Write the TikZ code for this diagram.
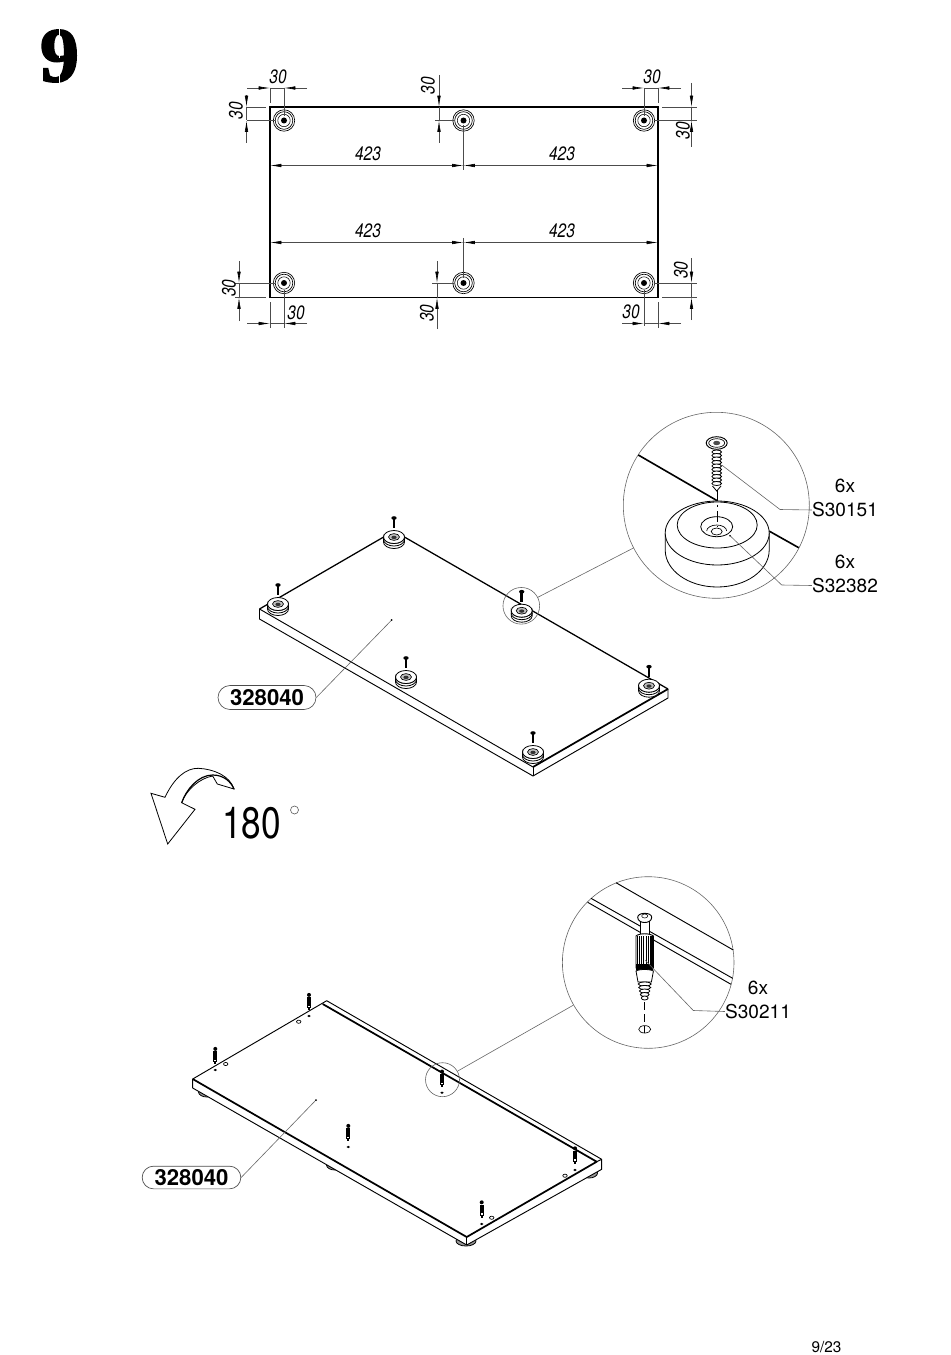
\documentclass[tikz,border=0pt]{standalone}
\usepackage{fontspec}
\usetikzlibrary{arrows.meta,shapes.misc}
\setmainfont{TeX Gyre Heros}
\newfontfamily\dimfont[FakeStretch=0.8]{TeX Gyre Heros}
\newfontfamily\bigfont[FakeStretch=0.8]{TeX Gyre Heros}
\newfontfamily\stepfont[FakeBold=2.5]{Liberation Serif}
\tikzset{
    dimline/.style={line width=0.45pt, draw=black!70, >={Latex[length=8.5pt,width=2.6pt,black]}},
    leaderline/.style={line width=0.45pt, draw=black!60},
    dimtext/.style={font=\dimfont\itshape\fontsize{14.5}{14.5}\selectfont, inner sep=0pt},
    parttext/.style={font=\fontsize{14.3}{14.3}\selectfont, inner sep=0pt},
    pill/.style={rounded rectangle, draw=black!70, line width=0.5pt, minimum height=18pt,
        inner sep=0pt, font=\bfseries\fontsize{16.6}{16.6}\selectfont},
    spot/.style={circle, draw=black!60, line width=0.45pt, inner sep=0pt},
    edgethin/.style={line width=0.7pt, line join=round},
    edgethick/.style={line width=1.3pt, line join=round}
}
\newcommand{\dimh}[5]{% y, left, tip, tip, right
    \draw[dimline,->] (#2,#1) -- (#3,#1);
    \draw[dimline,->] (#5,#1) -- (#4,#1);
    \draw[dimline] (#3,#1) -- (#4,#1);
}
\newcommand{\dimv}[5]{% x, top, tip, tip, bottom
    \draw[dimline,->] (#1,#2) -- (#1,#3);
    \draw[dimline,->] (#1,#5) -- (#1,#4);
    \draw[dimline] (#1,#3) -- (#1,#4);
}
\newcommand{\planhole}[2]{%
    \draw[line width=0.5pt] (#1,#2) circle (10.7);
    \draw[line width=0.5pt] (#1,#2) circle (8.8);
    \draw[line width=0.4pt] (#1,#2) circle (6.2);
    \fill (#1,#2) circle (3);
}
\newcommand{\minifoot}[2]{% centre of the foot
    \begin{scope}[shift={(#1,#2)}]
        \filldraw[fill=white, line width=0.6pt] (-10.5,-1) -- (-10.5,4)
            arc[start angle=180, end angle=0, x radius=10.5, y radius=6.5] -- (10.5,-1)
            arc[start angle=0, end angle=180, x radius=10.5, y radius=6.5] -- cycle;
        \draw[line width=0.6pt] (-10.5,1.5) arc[start angle=180, end angle=0, x radius=10.5, y radius=6.5];
        \filldraw[fill=white, line width=0.6pt] (0,-1) ellipse [x radius=10.5, y radius=6.5];
        \filldraw[fill=black!25, line width=0.5pt] (0,-1) ellipse [x radius=5.5, y radius=3.4];
        \fill[black!80] (0,-0.6) ellipse [x radius=2.6, y radius=1.7];
        \draw[line width=2pt] (0,-19) -- (0,-10);
        \fill (0,-20) ellipse [x radius=2.7, y radius=1.8];
    \end{scope}
}
\newcommand{\underfoot}[3]{% x, y, x radius
    \filldraw[fill=black!40, line width=0.6pt] (#1,#2) ellipse [x radius=#3, y radius=5];
}
\newcommand{\minidowel}[3]{% x, top, hole y
    \fill (#1,#2+1.6) circle (2);
    \fill (#1-2,#2+4) rectangle (#1+2,#2+12);
    \filldraw[fill=white, line width=0.5pt] (#1-1.5,#2+12) rectangle (#1+1.5,#2+14.5);
    \fill (#1-1,#2+14.5) rectangle (#1+1,#2+17);
    \fill (#1,#3) ellipse [x radius=1.7, y radius=1.2];
}
\newcommand{\minihole}[2]{%
    \draw[line width=0.5pt] (#1,#2) ellipse [x radius=2.2, y radius=1.6];
}
\begin{document}
\begin{tikzpicture}[x=0.75pt, y=-0.75pt]
    \useasboundingbox (0,0) rectangle (950,1355);

    % step number
    \node[font=\stepfont\bfseries\fontsize{58}{58}\selectfont, inner sep=0pt] (stepno) at (59.5,56) {9};
    \fill[white] (59,27) rectangle (60.3,58);
    \fill[white] (59,70) rectangle (60.3,86);

    % plan of the panel
    \draw[line width=1.1pt] (270,107) rectangle (658,297.5);
    \foreach \px in {284, 463.5, 644}
        \foreach \py in {120.5, 283}
            \planhole{\px}{\py};
    \draw[dimline] (270,88) -- (270,103);
    \draw[dimline] (284,88) -- (284,116);
    \dimh{88}{247}{270}{284}{307}
    \draw[dimline] (247,107) -- (266,107);
    \draw[dimline] (247,120.5) -- (275,120.5);
    \dimv{246.5}{95}{107}{120.5}{143}
    \draw[dimline] (435,120.5) -- (454,120.5);
    \dimv{439}{75}{107}{120.5}{143}
    \draw[dimline] (644,88) -- (644,116);
    \draw[dimline] (658,88) -- (658,103);
    \dimh{88}{622}{644}{658}{681}
    \draw[dimline] (662,107) -- (697,107);
    \draw[dimline] (654,120.5) -- (697,120.5);
    \dimv{691.5}{83}{107}{120.5}{147}
    \draw[dimline] (463.5,125) -- (463.5,170);
    \draw[dimline,<->] (270,165.5) -- (463.5,165.5);
    \draw[dimline,<->] (463.5,165.5) -- (658,165.5);
    \draw[dimline] (463.5,238) -- (463.5,278);
    \draw[dimline,<->] (270,242.5) -- (463.5,242.5);
    \draw[dimline,<->] (463.5,242.5) -- (658,242.5);
    \draw[dimline] (235,283) -- (275,283);
    \draw[dimline] (235,297.5) -- (266,297.5);
    \dimv{239}{261}{283}{297.5}{321}
    \draw[dimline] (432,283) -- (454,283);
    \dimv{437}{261}{283}{297.5}{329}
    \draw[dimline] (654,283) -- (697,283);
    \draw[dimline] (662,297.5) -- (697,297.5);
    \dimv{691.5}{258}{283}{297.5}{320}
    \draw[dimline] (270,302) -- (270,328);
    \draw[dimline] (284,290) -- (284,328);
    \dimh{323.5}{247}{270}{284}{307}
    \draw[dimline] (644,290) -- (644,326);
    \draw[dimline] (658,302) -- (658,328);
    \dimh{323.5}{622}{644}{658}{681}

    \foreach \i/\lx/\ly/\lt in {1/278/77/30, 2/652/77/30, 3/296/313/30, 4/631/312/30,
            5/368/154/423, 6/562/154/423, 7/368/231/423, 8/562/231/423}
        \node[dimtext] (dimh\i) at (\lx,\ly) {\lt};
    \foreach \i/\lx/\ly in {1/236/111, 2/428/86, 3/683/131, 4/229/288, 5/427/313, 6/681/270}
        \node[dimtext, rotate=90] (dimv\i) at (\lx,\ly) {30};

    % panel with feet
    \draw[edgethin] (259.5,609) -- (259.5,619) -- (533,776) -- (668,698) -- (668,689);
    \draw[edgethin] (533,767) -- (533,776);
    \draw[edgethin] (259.5,609) -- (533,767);
    \draw[edgethick] (533,767) -- (668,689);
    \draw[edgethin, line width=0.95pt] (259.5,609) -- (394,531) -- (668,689);
    \minifoot{278}{605}
    \minifoot{394}{538}
    \minifoot{521.7}{611.7}
    \minifoot{406}{678}
    \minifoot{649}{686.7}
    \minifoot{533}{753}

    \node[spot, minimum size=27.5pt] (spotA) at (521.3,605.8) {};
    \node[spot, minimum size=139.5pt] (detailA) at (716.3,505.3) {};
    \draw[leaderline] (spotA) -- (detailA);

    % detail of the foot
    \draw[line width=1.2pt] (638.3,455) -- (717.7,501);
    \draw[line width=1.2pt] (769,531) -- (798.7,547.7);
    \filldraw[fill=white, line width=0.6pt] (665.2,533) -- (665.2,550)
        arc[start angle=180, end angle=0, x radius=52, y radius=37] -- (769.2,533);
    \filldraw[fill=white, line width=0.6pt] (717.2,533) ellipse [x radius=52, y radius=32];
    \draw[line width=0.6pt] (717.2,525) ellipse [x radius=40, y radius=23];
    \draw[line width=0.6pt] (716.7,526.7) ellipse [x radius=16, y radius=10];
    \draw[line width=0.5pt] (706.7,531) arc[start angle=180, end angle=360, x radius=10, y radius=6];
    \draw[line width=0.5pt] (716.7,531.5) ellipse [x radius=5.5, y radius=3.5];
    \draw[line width=0.4pt, dash pattern=on 8pt off 3pt on 2pt off 3pt] (717,490) -- (717,527);

    % screw
    \fill[white] (711,448) rectangle (722,488);
    \foreach \ty in {452,455.5,...,484}
        \filldraw[fill=white, line width=0.6pt] (716.7,\ty) ellipse [x radius=4.8, y radius=2];
    \draw[line width=0.6pt] (712.5,486) -- (716.7,491) -- (721,486);
    \filldraw[fill=white, line width=0.7pt] (716.7,443) ellipse [x radius=10.5, y radius=6.3];
    \draw[line width=0.5pt] (716.7,443) ellipse [x radius=8, y radius=4.3];
    \fill[black!70] (716.7,443) ellipse [x radius=3.5, y radius=2.2];

    \node[parttext] (countA) at (845,485.5) {6x};
    \node[parttext] (partA) at (845,510) {S30151};
    \node[parttext] (countB) at (845,561.5) {6x};
    \node[parttext] (partB) at (845,585.5) {S32382};
    \coordinate (screwA) at (721.7,465);
    \coordinate (cupA) at (730,535.7);
    \draw[leaderline] (screwA) -- (780,509.5) -- (partA.west);
    \draw[leaderline] (cupA) -- (781.7,585) -- (partB.west);
    \fill (cupA) circle (0.9);

    \node[pill, minimum width=73.5pt] (panelA) at (267,697.5) {328040};
    \coordinate (markA) at (391.7,620);
    \draw[leaderline] (panelA.east) -- (markA);
    \fill (markA) circle (1);

    % turn over
    \filldraw[fill=white, line width=0.6pt] (167.7,844) -- (151,793.3) -- (165,797.3)
        .. controls (174,778) and (186,768) .. (198.3,768.3)
        .. controls (214,769) and (230,776) .. (234,789)
        -- (217.3,784) -- (212.7,776)
        .. controls (200,778) and (186,790) .. (181.7,802.7)
        -- (195,809.3) -- cycle;
    \draw[line width=0.9pt] (181.7,802.7) .. controls (186,790) and (198,775) .. (212.7,775)
        .. controls (224,775) and (231,782) .. (234,789);
    \node[font=\bigfont\fontsize{33}{33}\selectfont, inner sep=0pt] (turn) at (251.5,823.5) {180};
    \draw[black!60, line width=0.5pt] (294.5,810) circle (4);

    % panel seen from below
    \underfoot{207}{1092}{8.5}
    \underfoot{335}{1165}{8.5}
    \underfoot{466}{1241}{10}
    \underfoot{589}{1173}{8.5}
    \filldraw[fill=white, edgethin] (192.7,1079) -- (192.7,1088) -- (466.7,1245) -- (601.7,1169.3)
        -- (601.7,1159.3) -- (326.7,1000.7) -- cycle;
    \draw[edgethin] (466.7,1237) -- (466.7,1245);
    \draw[edgethick] (192.7,1079) -- (466.7,1237) -- (596.7,1161.7) -- (322.7,1004);
    \draw[edgethin] (596.7,1161.7) -- (601.7,1159.3);
    \minidowel{309}{993.3}{1016}
    \minidowel{215.3}{1047.3}{1070}
    \minidowel{442}{1070}{1092.7}
    \minidowel{348.3}{1124.3}{1147}
    \minidowel{575}{1146.7}{1170}
    \minidowel{481.7}{1200.7}{1224}
    \minihole{298.7}{1021.7}
    \minihole{225.7}{1064}
    \minihole{565}{1175.7}
    \minihole{491.7}{1217.7}

    \node[spot, minimum size=25.5pt] (spotB) at (442.5,1079.7) {};
    \node[spot, minimum size=128.7pt] (detailB) at (648.2,962.5) {};
    \draw[leaderline] (spotB) -- (detailB);

    % detail of the dowel
    \draw[line width=0.7pt] (591,898.3) -- (732.7,978.3);
    \draw[line width=0.7pt] (587.7,902.3) -- (731,984.3);
    \draw[line width=0.7pt] (616,882.7) -- (733.3,950);
    \filldraw[fill=white, line width=0.6pt] (640.4,920) rectangle (649,936);
    \filldraw[fill=white, line width=0.7pt] (637.7,917.3) .. controls (637.7,912) and (651.7,912) .. (651.7,917.3)
        .. controls (651.7,921) and (648,922.5) .. (644.7,922.5) .. controls (641.4,922.5) and (637.7,921) .. (637.7,917.3) -- cycle;
    \draw[line width=0.4pt] (644.7,916) ellipse [x radius=3, y radius=2];
    \filldraw[fill=white, line width=0.7pt] (636,936) -- (636,968) -- (653.4,968) -- (653.4,936)
        .. controls (650,933) and (639,933) .. (636,936) -- cycle;
    \foreach \rx in {637.5,639.5,641.5,643.5,646.5,648.5,650.5,652}
        \draw[line width=0.8pt] (\rx,936) -- (\rx,968);
    \fill (636,964) rectangle (653.4,970);
    \filldraw[fill=white, line width=0.6pt] (636,971) -- (638,982) -- (651.4,982) -- (653.4,971)
        .. controls (650,969) and (639,969) .. (636,971) -- cycle;
    \foreach \ty/\tr in {984/6.5, 987.5/6, 991/5.2, 994.5/4.4, 998/3.4}
        \filldraw[fill=white, line width=0.6pt] (644.7,\ty) ellipse [x radius=\tr, y radius=2];
    \draw[line width=0.4pt, dash pattern=on 6pt off 3pt] (644.7,1002) -- (644.7,1024);
    \draw[line width=0.5pt] (644.7,1029.3) ellipse [x radius=6, y radius=3.7];
    \draw[line width=0.4pt] (644.7,1025.6) -- (644.7,1033);

    \node[parttext] (countC) at (758,987.5) {6x};
    \node[parttext] (partC) at (758,1011.5) {S30211};
    \coordinate (dowelC) at (645,960);
    \draw[leaderline] (dowelC) -- (693.3,1010.5) -- (partC.west);

    \node[pill, minimum width=74pt, minimum height=17pt] (panelB) at (191.5,1177.5) {328040};
    \coordinate (markB) at (316,1100);
    \draw[leaderline] (panelB.east) -- (markB);
    \fill (markB) circle (1);

    \node[font=\fontsize{11.5}{11.5}\selectfont, inner sep=0pt] (pageno) at (826.5,1347) {9/23};
\end{tikzpicture}
\end{document}
